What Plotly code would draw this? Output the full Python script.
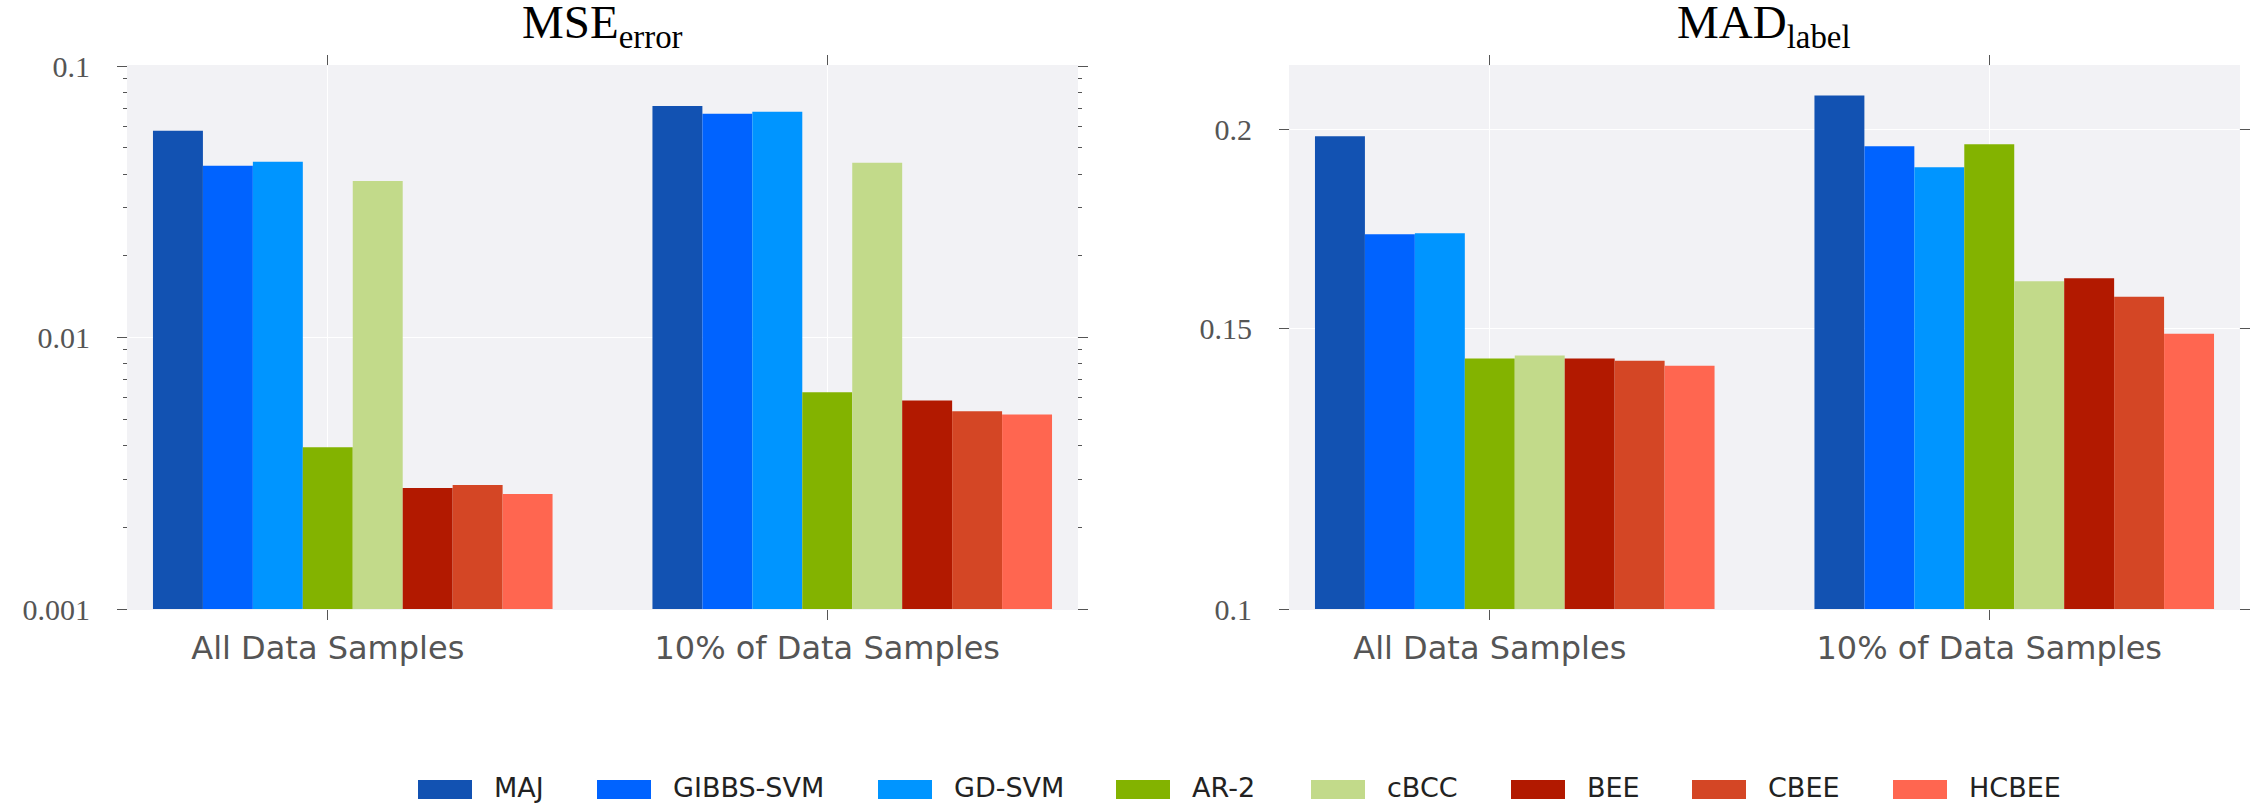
import plotly.graph_objects as go

methods = ["MAJ", "GIBBS-SVM", "GD-SVM", "AR-2", "cBCC", "BEE", "CBEE", "HCBEE"]
groups = ["All Data Samples", "10% of Data Samples"]
mse_all = [0.0577, 0.0429, 0.0444, 0.00394, 0.0377, 0.00279, 0.00286, 0.00265]
mse_10 = [0.0713, 0.0667, 0.0678, 0.00628, 0.0440, 0.00586, 0.00535, 0.00521]
mad_all = [0.1982, 0.1720, 0.1722, 0.1437, 0.1443, 0.1437, 0.1432, 0.1422]
mad_10 = [0.2102, 0.1953, 0.1895, 0.1959, 0.1607, 0.1614, 0.1571, 0.1489]
colors = ["#1252b2", "#0063ff", "#0095ff", "#83b300", "#c2da8a", "#b21900", "#d44625", "#ff6650"]
mse_ticks = [0.001, 0.01, 0.1]
mse_ticktext = ["0.001", "0.01", "0.1"]
mad_ticks = [0.1, 0.15, 0.2]
mad_ticktext = ["0.1", "0.15", "0.2"]

W, H = 2256, 806
BAR_W = 0.1
ITEM_W = 86
# left edge (px) of each legend entry's text, one legend per method
legend_text_px = [494, 673, 954, 1192, 1387, 1587, 1768, 1969]

fig = go.Figure()
for j, m in enumerate(methods):
    off = -0.35 + BAR_W * j
    lg = "legend" if j == 0 else f"legend{j + 1}"
    fig.add_trace(go.Bar(x=[0, 1], y=[mse_all[j], mse_10[j]], name=m, marker_color=colors[j],
                         marker_line_width=0, width=BAR_W, offset=off, xaxis="x", yaxis="y",
                         legendgroup=m, showlegend=True, legend=lg))
    fig.add_trace(go.Bar(x=[0, 1], y=[mad_all[j], mad_10[j]], name=m, marker_color=colors[j],
                         marker_line_width=0, width=BAR_W, offset=off, xaxis="x2", yaxis="y2",
                         legendgroup=m, showlegend=False, legend=lg))

tickfont = dict(family="Liberation Serif", size=30, color="#555555")
xfont = dict(family="DejaVu Sans", size=32, color="#555555")
ydom = [1 - 609 / H, 1 - 66 / H]

common_x = dict(tickvals=[0, 1], ticktext=groups, range=[-0.4, 1.5], ticks="outside", ticklen=10,
                tickcolor="#555555", showgrid=True, gridcolor="white", gridwidth=1,
                showline=True, linecolor="#f2f2f5", mirror="ticks", tickfont=xfont, zeroline=False,
                automargin=False, ticklabelstandoff=1)
common_y = dict(type="log", ticks="outside", ticklen=10, tickcolor="#555555", showgrid=True,
                gridcolor="white", gridwidth=1, showline=True, linecolor="#f2f2f5", mirror="ticks",
                tickfont=tickfont, zeroline=False, automargin=False, ticklabelstandoff=21)

legends = {}
shapes = []
for j in range(len(methods)):
    key = "legend" if j == 0 else f"legend{j + 1}"
    legends[key] = dict(orientation="h", x=(legend_text_px[j] - ITEM_W - 10) / W, xanchor="left",
                        y=19 / H, yanchor="middle", itemwidth=ITEM_W,
                        font=dict(family="DejaVu Sans", size=27, color="#222222"),
                        bgcolor="rgba(0,0,0,0)")
    # widen the legend swatch into the reference's rectangular patch
    shapes.append(dict(type="rect", xref="paper", yref="paper",
                       x0=(legend_text_px[j] - 76) / W, x1=(legend_text_px[j] - 22) / W,
                       y0=(H - 799) / H, y1=(H - 780) / H,
                       fillcolor=colors[j], line=dict(width=0), layer="below"))

title_font = dict(family="Liberation Serif", size=47, color="black")
fig.update_layout(
    width=W, height=H, barmode="overlay",
    paper_bgcolor="white", plot_bgcolor="#f2f2f5",
    margin=dict(l=0, r=0, t=0, b=0, autoexpand=False),
    xaxis=dict(domain=[128 / W, 1077 / W], anchor="y", **common_x),
    xaxis2=dict(domain=[1290 / W, 2239 / W], anchor="y2", **common_x),
    yaxis=dict(domain=ydom, anchor="x", range=[-3, -1], tickvals=mse_ticks, ticktext=mse_ticktext,
               minor=dict(ticks="outside", ticklen=4, tickcolor="#555555", dtick="D1", showgrid=False),
               **common_y),
    yaxis2=dict(domain=ydom, anchor="x2", range=[-1, -0.6588], tickvals=mad_ticks,
                ticktext=mad_ticktext, **common_y),
    shapes=shapes,
    annotations=[
        dict(text="MSE<sub>error</sub>", x=602 / W, y=1 - 56 / H, xref="paper", yref="paper",
             xanchor="center", yanchor="bottom", showarrow=False, borderpad=0, font=title_font),
        dict(text="MAD<sub>label</sub>", x=1764 / W, y=1 - 56 / H, xref="paper", yref="paper",
             xanchor="center", yanchor="bottom", showarrow=False, borderpad=0, font=title_font),
    ],
    **legends,
)

fig.write_html("out.html", config={"displayModeBar": False},
               post_script="document.body.style.margin='0px';")
